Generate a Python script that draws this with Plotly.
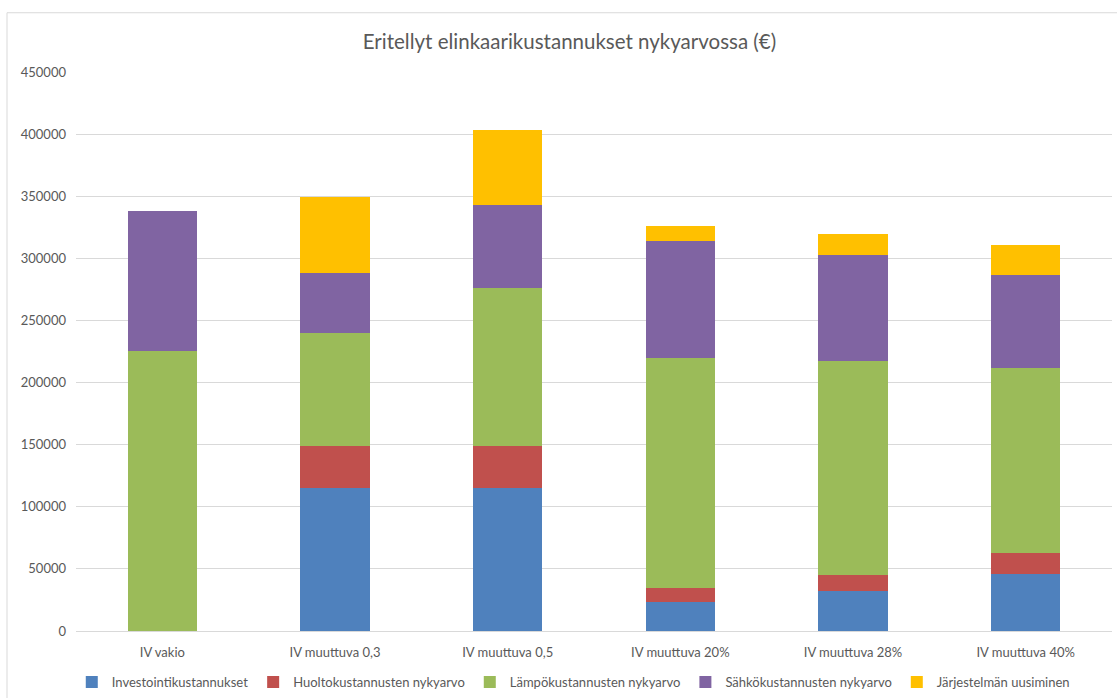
import plotly.graph_objects as go

categories = ["IV vakio", "IV muuttuva 0,3", "IV muuttuva 0,5", "IV muuttuva 20%", "IV muuttuva 28%", "IV muuttuva 40%"]
investointi = [0, 114800, 114800, 23000, 31900, 46100]
huolto = [0, 33800, 33800, 11300, 13400, 16900]
lampo = [225100, 91500, 127500, 185700, 172100, 148700]
sahko = [113300, 48100, 66500, 94200, 85500, 74600]
jarjestelma = [0, 60900, 60700, 11500, 16900, 24100]

series_names = ["Investointikustannukset", "Huoltokustannusten nykyarvo", "Lämpökustannusten nykyarvo",
                "Sähkökustannusten nykyarvo", "Järjestelmän uusiminen"]
series_values = [investointi, huolto, lampo, sahko, jarjestelma]
colors = ["#4F81BD", "#C0504D", "#9BBB59", "#8064A2", "#FFC000"]

y_ticks = [0, 50000, 100000, 150000, 200000, 250000, 300000, 350000, 400000, 450000]

FONT = "Lato"
GRAY = "#595959"

fig = go.Figure()
for name, vals, col in zip(series_names, series_values, colors):
    fig.add_trace(go.Bar(x=categories, y=vals, name=name, marker=dict(color=col, line=dict(width=0))))

fig.update_layout(
    barmode="stack",
    bargap=0.6,
    width=1117, height=698,
    margin=dict(l=76, r=5, t=72, b=67, autoexpand=False),
    paper_bgcolor="white", plot_bgcolor="white",
    font=dict(family=FONT, size=13, color=GRAY),
    title=dict(text="Eritellyt elinkaarikustannukset nykyarvossa (€)", x=569.5 / 1117, xanchor="center",
               xref="container",
               y=1 - 42 / 698, yanchor="middle", font=dict(family=FONT, size=20.5, color=GRAY)),
    xaxis=dict(showgrid=False, showline=False, ticks="", ticklabelstandoff=12,
               tickfont=dict(size=13, color=GRAY)),
    yaxis=dict(range=[0, 450000], tickvals=y_ticks, ticktext=[str(v) for v in y_ticks],
               showgrid=True, gridcolor="#D9D9D9", gridwidth=1, zeroline=True, zerolinecolor="#D9D9D9",
               zerolinewidth=1, ticks="", ticklabelstandoff=9, tickfont=dict(size=13, color=GRAY)),
    legend=dict(orientation="h", x=0.48, xanchor="center", yref="container", y=1 - 682 / 698,
                yanchor="middle", font=dict(size=13, color=GRAY), traceorder="normal"),
    showlegend=True,
    shapes=[dict(type="rect", xref="paper", yref="paper", x0=-0.0666, x1=1.05, y0=-0.2, y1=1.106,
                 line=dict(color="#D9D9D9", width=1), fillcolor="rgba(0,0,0,0)", layer="below")],
)

fig.write_html("out.html")
